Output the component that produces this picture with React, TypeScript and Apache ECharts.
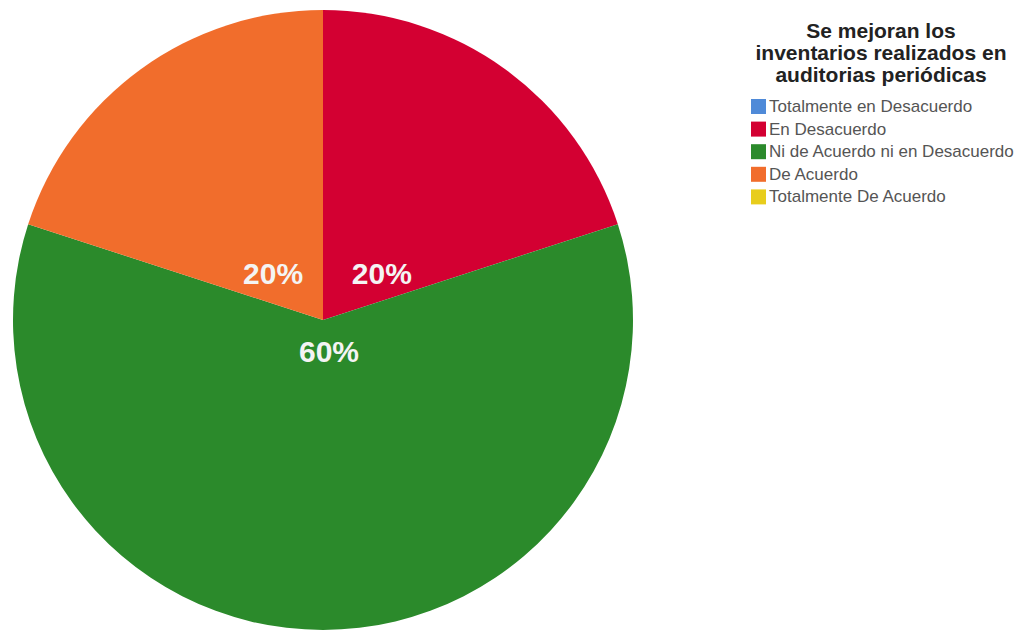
import React, { useEffect, useRef } from "react";
import * as echarts from "echarts";

const categories = [
  "Totalmente en Desacuerdo",
  "En Desacuerdo",
  "Ni de Acuerdo ni en Desacuerdo",
  "De Acuerdo",
  "Totalmente De Acuerdo",
];
const values = [0, 20, 60, 20, 0];
const colors = ["#4f8ad8", "#d30032", "#2b8a2b", "#f16d2c", "#e8cd1c"];
const titleLines = ["Se mejoran los", "inventarios realizados en", "auditorias periódicas"];
// label nudges (px) relative to default inside position, per category
const labelDx = [0, -34, 6, 43, 0];
const labelDy = [0, 81, -127, 81, 0];

export default function App() {
  const ref = useRef<HTMLDivElement>(null);
  useEffect(() => {
    if (!ref.current) return;
    const chart = echarts.init(ref.current, null, { renderer: "svg" });
    const total = values.reduce((a, b) => a + b, 0);
    chart.setOption({
      animation: false,
      backgroundColor: "#ffffff",
      color: colors,
      legend: {
        orient: "vertical",
        left: 746,
        top: 93,
        itemWidth: 15,
        itemHeight: 15,
        itemGap: 5.6,
        icon: "rect",
        data: categories,
        textStyle: {
          fontFamily: "Arial, 'Liberation Sans', sans-serif",
          fontSize: 17,
          lineHeight: 17,
          color: "#555555",
          padding: [0, 0, 0, -2],
        },
      },
      graphic: [
        {
          type: "text",
          x: 881,
          y: 19,
          style: {
            text: titleLines.join("\n"),
            textAlign: "center",
            textVerticalAlign: "top",
            fontFamily: "Arial, 'Liberation Sans', sans-serif",
            fontWeight: "bold",
            fontSize: 21,
            lineHeight: 22,
            fill: "#222222",
          },
        },
      ],
      series: [
        {
          type: "pie",
          center: [323, 320],
          radius: [0, 310],
          startAngle: 90,
          clockwise: true,
          minAngle: 0,
          avoidLabelOverlap: false,
          data: categories.map((name, i) => ({ name, value: values[i] })),
          itemStyle: { borderWidth: 0 },
          label: {
            show: true,
            position: "inside",
            formatter: (p: any) =>
              p.value > 0 ? `${Math.round((p.value / total) * 100)}%` : "",
            fontFamily: "Arial, 'Liberation Sans', sans-serif",
            fontWeight: "bold",
            fontSize: 30,
            color: "#f4f4f4",
          },
          labelLine: { show: false },
          labelLayout: (params: any) => ({
            dx: labelDx[params.dataIndex],
            dy: labelDy[params.dataIndex],
          }),
          emphasis: { disabled: true },
        },
      ],
    });
    return () => chart.dispose();
  }, []);
  return (
    <div
      ref={ref}
      style={{ position: "absolute", left: 0, top: 0, width: 1022, height: 637 }}
    />
  );
}
